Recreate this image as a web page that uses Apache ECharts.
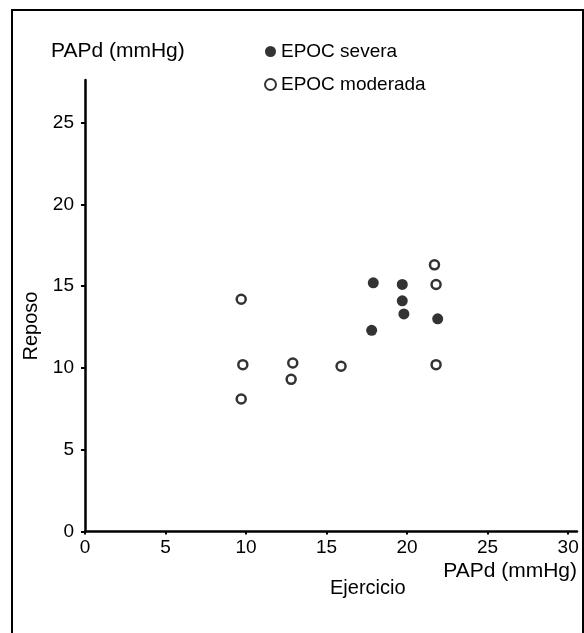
<!DOCTYPE html>
<html lang="es" style="height: 100%">
  <head>
    <meta charset="utf-8" />
  </head>
  <body style="height: 100%; margin: 0; background: #fff">
    <div id="container" style="width: 584px; height: 633px"></div>

    <script
      type="text/javascript"
      src="https://cdn.jsdelivr.net/npm/echarts@6/dist/echarts.min.js"
    ></script>

    <script type="text/javascript">
      // PAPd ejercicio (x) vs reposo (y)
      var severaX = [17.9, 19.7, 19.7, 19.8, 17.8, 21.9];
      var severaY = [15.2, 15.1, 14.1, 13.3, 12.3, 13.0];
      var moderadaX = [9.7, 9.8, 9.7, 12.9, 12.8, 15.9, 21.7, 21.8, 21.8];
      var moderadaY = [14.2, 10.2, 8.1, 10.3, 9.3, 10.1, 16.3, 15.1, 10.2];
      var xTicks = [0, 5, 10, 15, 20, 25, 30];
      var yTicks = [0, 5, 10, 15, 20, 25];

      function pairs(xs, ys) {
        return xs.map(function (x, i) {
          return [x, ys[i]];
        });
      }

      var font = "Liberation Sans, Arial, sans-serif";
      var dom = document.getElementById("container");
      var myChart = echarts.init(dom, null, { renderer: "canvas" });

      var option = {
        animation: false,
        backgroundColor: "#fff",
        textStyle: { fontFamily: font, color: "#000" },
        title: {
          text: "PAPd (mmHg)",
          left: 46,
          top: 36,
          textStyle: { fontFamily: font, fontSize: 21, fontWeight: "normal", color: "#000" },
        },
        legend: {
          orient: "vertical",
          left: 259,
          top: 37,
          itemGap: 14,
          itemWidth: 11,
          itemHeight: 11,
          textStyle: { fontFamily: font, fontSize: 19, color: "#000" },
          data: [
            { name: "EPOC severa", icon: "circle" },
            { name: "EPOC moderada", icon: "circle" },
          ],
        },
        grid: { left: 85, top: 80, width: 492, height: 451.5 },
        xAxis: {
          type: "value",
          min: 0,
          max: 30.55,
          interval: 5,
          axisLine: { lineStyle: { color: "#000", width: 2.5 } },
          axisTick: { show: true, length: 3, lineStyle: { color: "#000", width: 2 }, customValues: xTicks },
          axisLabel: { customValues: xTicks, color: "#000", fontSize: 19, fontFamily: font, margin: 7 },
          splitLine: { show: false },
        },
        yAxis: {
          type: "value",
          min: 0,
          max: 27.6,
          interval: 5,
          axisLine: { lineStyle: { color: "#000", width: 2.5 } },
          axisTick: { show: true, length: 4, lineStyle: { color: "#000", width: 2 }, customValues: yTicks },
          axisLabel: { customValues: yTicks, color: "#000", fontSize: 19, fontFamily: font, margin: 11 },
          splitLine: { show: false },
        },
        graphic: [
          {
            type: "rect",
            shape: { x: 12, y: 10, width: 571, height: 640 },
            style: { fill: null, stroke: "#000", lineWidth: 2 },
            silent: true,
          },
          {
            type: "text",
            x: 31,
            y: 326,
            rotation: Math.PI / 2,
            style: {
              text: "Reposo",
              font: "20px " + font,
              fill: "#000",
              align: "center",
              verticalAlign: "middle",
            },
          },
          {
            type: "text",
            right: 7,
            top: 561,
            style: { text: "PAPd (mmHg)", font: "21px " + font, fill: "#000" },
          },
          {
            type: "text",
            left: 330,
            top: 578,
            style: { text: "Ejercicio", font: "20px " + font, fill: "#000" },
          },
        ],
        series: [
          {
            name: "EPOC severa",
            type: "scatter",
            symbol: "circle",
            symbolSize: 11,
            itemStyle: { color: "#000" },
            data: pairs(severaX, severaY),
          },
          {
            name: "EPOC moderada",
            type: "scatter",
            symbol: "circle",
            symbolSize: 9,
            itemStyle: { color: "#fff", borderColor: "#000", borderWidth: 2.5 },
            data: pairs(moderadaX, moderadaY),
          },
        ],
      };

      myChart.setOption(option);
    </script>
  </body>
</html>
